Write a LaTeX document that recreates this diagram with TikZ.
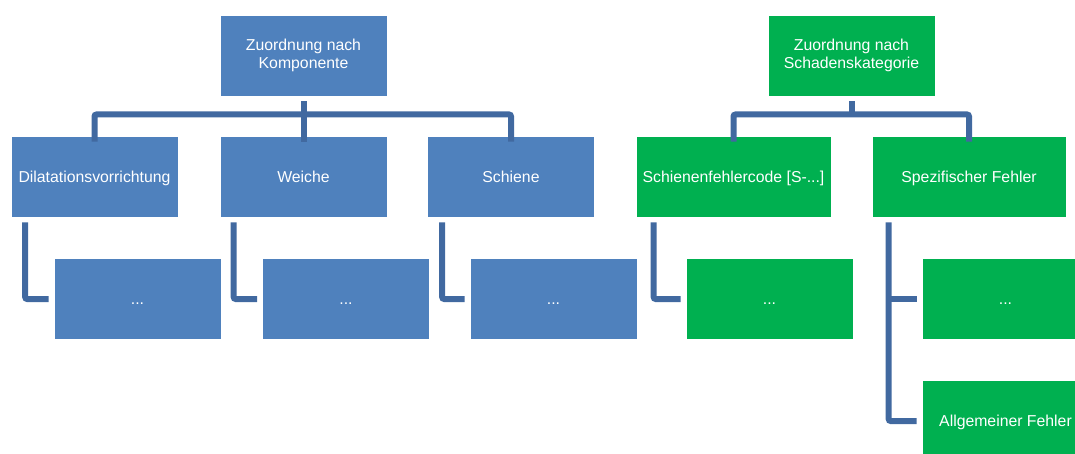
\documentclass[tikz,border=0pt]{standalone}
\usepackage{fontspec}
\setmainfont{Liberation Sans}
\usetikzlibrary{calc}
\definecolor{bluebox}{RGB}{79,129,189}
\definecolor{greenbox}{RGB}{0,176,80}
\definecolor{connc}{RGB}{65,105,160}
\tikzset{
  box/.style={rectangle, minimum width=167pt, minimum height=81pt, inner sep=2pt,
    text=white, font=\fontsize{15.8}{17.5}\selectfont, align=center, draw=white, line width=0.6pt},
  oneline/.style={text height=11.5pt, text depth=0pt},
  bbox/.style={box, fill=bluebox},
  gbox/.style={box, fill=greenbox},
  conn/.style={draw=connc, line width=6pt, rounded corners=2pt}
}
\begin{document}
\begin{tikzpicture}[x=1pt,y=-1pt]
\useasboundingbox (0,0) rectangle (1075,454);
% top
\node[bbox] (topB) at (303.5,55.5) {Zuordnung nach\\Komponente};
\node[gbox] (topG) at (851.5,55.5) {Zuordnung nach\\Schadenskategorie};
% children
\node[bbox, oneline] (c1) at (94.5,176.5) {Dilatationsvorrichtung};
\node[bbox, oneline] (c2) at (303.5,176.5) {Weiche};
\node[bbox, oneline] (c3) at (511,176.5) {Schiene};
\node[gbox, oneline, minimum width=195pt] (c4) at (733.5,176.5) {Schienenfehlercode [S-...]};
\node[gbox, oneline, minimum width=194pt] (c5) at (969,176.5) {Spezifischer Fehler};
% grandchildren
\node[bbox, oneline] (g1) at (137.5,299) {...};
\node[bbox, oneline] (g2) at (346,299) {...};
\node[bbox, oneline] (g3) at (553.5,299) {...};
\node[gbox, oneline] (g4) at (769.5,299) {...};
\node[gbox, oneline] (g5) at (1005.5,299) {...};
\node[gbox, oneline] (g6) at (1005.5,421) {Allgemeiner Fehler};
% buses
\coordinate (busB) at (0,114.5);
\draw[conn] ([yshift=-6pt]c1.north) -- (c1.north |- busB) -- (c3.north |- busB) -- ([yshift=-6pt]c3.north);
\draw[conn] ([yshift=-5pt]topB.south) -- ([yshift=-6pt]c2.north);
\draw[conn] ([yshift=-6pt]c4.north) -- (c4.north |- busB) -- (c5.north |- busB) -- ([yshift=-6pt]c5.north);
\draw[conn] ([yshift=-5pt]topG.south) -- (topG.south |- busB);
% grandchild connectors
\draw[conn] ([xshift=14.5pt,yshift=-5pt]c1.south west) |- ([xshift=-5pt]g1.west);
\draw[conn] ([xshift=14pt,yshift=-5pt]c2.south west) |- ([xshift=-5pt]g2.west);
\draw[conn] ([xshift=15pt,yshift=-5pt]c3.south west) |- ([xshift=-5pt]g3.west);
\draw[conn] ([xshift=18pt,yshift=-5pt]c4.south west) |- ([xshift=-5pt]g4.west);
\draw[conn] ([xshift=17pt,yshift=-5pt]c5.south west) |- ([xshift=-5pt]g6.west);
\draw[conn] ([xshift=17pt]c5.south west |- g5.west) -- ([xshift=-5pt]g5.west);
\end{tikzpicture}
\end{document}
